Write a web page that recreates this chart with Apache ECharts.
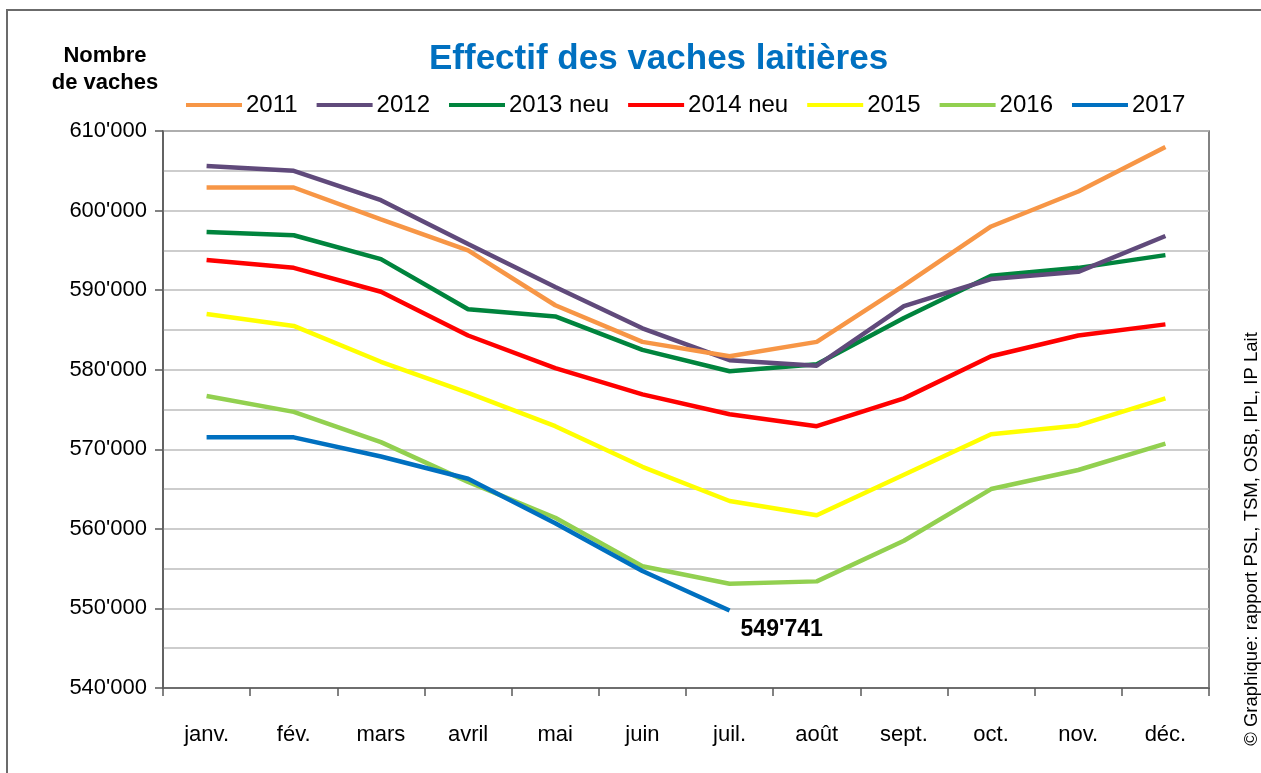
<!DOCTYPE html>
<html>
<head>
<meta charset="utf-8">
<script src="https://cdn.jsdelivr.net/npm/echarts@6/dist/echarts.min.js"></script>
<style>
  html, body { margin: 0; padding: 0; background: #fff; }
  #chart { width: 1261px; height: 773px; }
</style>
</head>
<body>
<div id="chart"></div>
<script>
var months = ['janv.', 'fév.', 'mars', 'avril', 'mai', 'juin', 'juil.', 'août', 'sept.', 'oct.', 'nov.', 'déc.'];
var names = ['2011', '2012', '2013 neu', '2014 neu', '2015', '2016', '2017'];
var colors = ['#F79646', '#604A7B', '#00843D', '#FF0000', '#FFFF00', '#92D050', '#0070C0'];

var v2011 = [602900, 602900, 598900, 595000, 588100, 583500, 581700, 583500, 590600, 598000, 602400, 608000];
var v2012 = [605600, 605000, 601300, 595800, 590400, 585200, 581200, 580500, 588000, 591400, 592300, 596800];
var v2013 = [597300, 596900, 593900, 587600, 586700, 582500, 579800, 580700, 586500, 591800, 592800, 594400];
var v2014 = [593800, 592800, 589800, 584300, 580200, 576900, 574400, 572900, 576400, 581700, 584300, 585700];
var v2015 = [587000, 585500, 581000, 577100, 572900, 567800, 563500, 561700, 566800, 571900, 573000, 576400];
var v2016 = [576700, 574700, 570900, 565900, 561400, 555300, 553100, 553400, 558500, 565000, 567400, 570700];
var v2017 = [571500, 571500, 569100, 566300, 560700, 554700, 549741];
var values = [v2011, v2012, v2013, v2014, v2015, v2016, v2017];

function fmt(v) {
  return String(v).replace(/\B(?=(\d{3})+(?!\d))/g, "'");
}

var font = 'Liberation Sans, Arial, sans-serif';
var chart = echarts.init(document.getElementById('chart'), null, { renderer: 'canvas' });

var series = names.map(function(n, i) {
  var s = {
    name: n,
    type: 'line',
    data: values[i],
    showSymbol: false,
    symbol: 'none',
    lineStyle: { color: colors[i], width: 4.5 },
    itemStyle: { color: colors[i] },
    z: 10 - i
  };
  if (i === 6) {
    s.z = 20;
    s.endLabel = {
      show: true,
      formatter: function(p) { return fmt(p.value); },
      fontFamily: font,
      fontSize: 23,
      fontWeight: 'bold',
      color: '#000',
      distance: 11,
      offset: [0, 19]
    };
  }
  return s;
});

chart.setOption({
  animation: false,
  color: colors,
  title: {
    text: 'Effectif des vaches laitières',
    left: 424,
    top: 37,
    textStyle: { fontFamily: font, fontSize: 35, fontWeight: 'bold', color: '#0070C0' }
  },
  legend: {
    data: names,
    left: 181,
    top: 88,
    icon: 'rect',
    itemWidth: 56,
    itemHeight: 4,
    itemGap: 19,
    textStyle: { fontFamily: font, fontSize: 24, color: '#000', padding: [0, 0, 0, -1] }
  },
  grid: { left: 163, top: 131, right: 52, bottom: 85, show: true, borderColor: '#595959', borderWidth: 1.5 },
  xAxis: {
    type: 'category',
    data: months,
    boundaryGap: true,
    axisLine: { lineStyle: { color: '#595959', width: 1.5 } },
    axisTick: { show: true, length: 8, lineStyle: { color: '#595959', width: 1.5 } },
    axisLabel: { fontFamily: font, fontSize: 22, color: '#000', margin: 36 }
  },
  yAxis: {
    type: 'value',
    min: 540000,
    max: 610000,
    interval: 10000,
    axisLine: { show: true, lineStyle: { color: '#595959', width: 1.5 } },
    axisTick: { show: true, length: 8, lineStyle: { color: '#595959', width: 1.5 } },
    axisLabel: { fontFamily: font, fontSize: 22, color: '#000', margin: 16, formatter: fmt },
    splitLine: { show: true, lineStyle: { color: '#BDBDBD', width: 1.5 } },
    minorTick: { show: false, splitNumber: 2 },
    minorSplitLine: { show: true, lineStyle: { color: '#BDBDBD', width: 1.5 } }
  },
  graphic: [
    {
      type: 'rect',
      shape: { x: 7, y: 10, width: 1400, height: 900 },
      style: { fill: 'none', stroke: '#6b6b6b', lineWidth: 2 },
      silent: true
    },
    {
      type: 'text',
      style: {
        x: 105, y: 69,
        text: 'Nombre\nde vaches',
        textAlign: 'center',
        textVerticalAlign: 'middle',
        fontFamily: font,
        fontSize: 22,
        fontWeight: 'bold',
        lineHeight: 27,
        fill: '#000'
      }
    },
    {
      type: 'text',
      x: 1252,
      y: 539,
      rotation: Math.PI / 2,
      style: {
        x: 0, y: 0,
        text: '© Graphique: rapport PSL, TSM, OSB, IPL, IP Lait',
        textAlign: 'center',
        textVerticalAlign: 'middle',
        fontFamily: font,
        fontSize: 18.5,
        fill: '#000'
      }
    }
  ],
  series: series
});
window.addEventListener('resize', function() { chart.resize(); });
</script>
</body>
</html>
